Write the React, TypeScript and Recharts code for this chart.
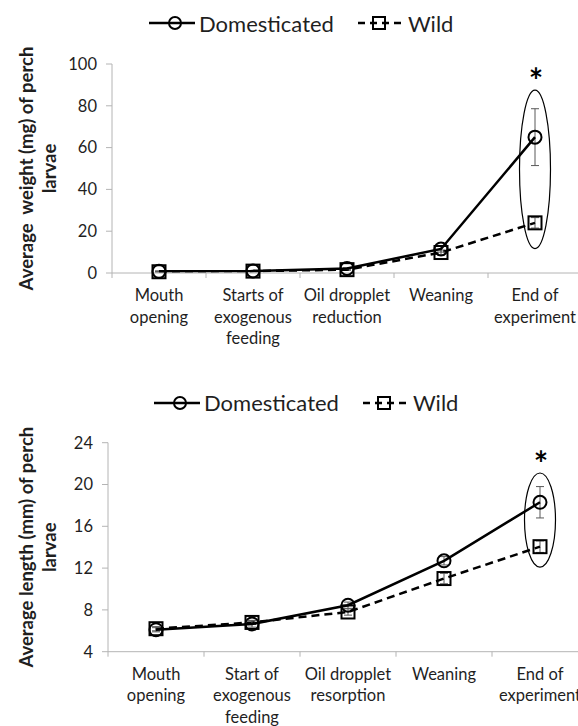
import React from 'react';
import { LineChart, Line, XAxis, YAxis, ErrorBar, ReferenceArea, Legend } from 'recharts';

// Stages of larval development (x axis), "\n" marks a line break in the tick label
const weightStages = ['Mouth\nopening', 'Starts of\nexogenous\nfeeding', 'Oil dropplet\nreduction', 'Weaning', 'End of\nexperiment'];
const lengthStages = ['Mouth\nopening', 'Start of\nexogenous\nfeeding', 'Oil dropplet\nresorption', 'Weaning', 'End of\nexperiment'];

// Average weight (mg)
const weightDomesticated = [0.8, 1.0, 2.2, 11.5, 65];
const weightDomesticatedErr = [0.2, 0.2, 0.3, 1.5, 13.6];
const weightWild = [0.6, 0.9, 1.6, 9.8, 24];
const weightWildErr = [0.2, 0.2, 0.3, 1.2, 2.5];
const weightTicks = [0, 20, 40, 60, 80, 100];
const weightEllipse = [11.7, 87.5];

// Average length (mm)
const lengthDomesticated = [6.1, 6.65, 8.45, 12.7, 18.3];
const lengthDomesticatedErr = [0.2, 0.3, 0.3, 0.4, 1.5];
const lengthWild = [6.2, 6.8, 7.8, 11.0, 14.05];
const lengthWildErr = [0.2, 0.2, 0.3, 0.5, 0.55];
const lengthTicks = [4, 8, 12, 16, 20, 24];
const lengthEllipse = [12.1, 21.1];

const SERIES = ['Domesticated', 'Wild'];

const FONT = 'Lato, "Liberation Sans", sans-serif';
const AXIS_GRAY = '#b4b4b4';
const TEXT = '#1f1f1f';

const buildRows = (stages, dom, domErr, wild, wildErr) =>
  stages.map((stage, i) => ({ stage, dom: dom[i], domErr: domErr[i], wild: wild[i], wildErr: wildErr[i] }));

const CircleDot = (props) => {
  const { cx, cy } = props;
  if (cx == null || cy == null) return null;
  return <circle cx={cx} cy={cy} r={6.5} fill="none" stroke="#000" strokeWidth={2} />;
};

const SquareDot = (props) => {
  const { cx, cy } = props;
  if (cx == null || cy == null) return null;
  return <rect x={cx - 6.5} y={cy - 6.5} width={13} height={13} fill="none" stroke="#000" strokeWidth={2} />;
};

const StageTick = ({ x, y, payload, half, last }) => {
  const lines = String(payload.value).split('\n');
  return (
    <g>
      <line x1={x - half} x2={x - half} y1={y} y2={y + 5} stroke={AXIS_GRAY} />
      {payload.index === last && <line x1={x + half} x2={x + half} y1={y} y2={y + 5} stroke={AXIS_GRAY} />}
      <text x={x} y={y + 28} textAnchor="middle" fontSize={16.5} fill={TEXT} fontFamily={FONT}>
        {lines.map((l, i) => (
          <tspan key={i} x={x} dy={i === 0 ? 0 : 21.5}>
            {l}
          </tspan>
        ))}
      </text>
    </g>
  );
};

const YTitle = ({ viewBox, lines }) => {
  const cy = viewBox.y + viewBox.height / 2;
  const xs = [26, 49];
  return (
    <g>
      {lines.map((l, i) => (
        <text
          key={i}
          x={xs[i]}
          y={cy}
          transform={`rotate(-90, ${xs[i]}, ${cy})`}
          textAnchor="middle"
          dominantBaseline="central"
          fontSize={18.5}
          fontWeight="bold"
          fill={TEXT}
          fontFamily={FONT}
          style={{ whiteSpace: 'pre' }}
        >
          {l}
        </text>
      ))}
    </g>
  );
};

// ellipse around the last stage with the significance star above it
const SignificanceMark = ({ x, y, width, height }) => {
  const cx = x + width / 2;
  const cy = y + height / 2;
  return (
    <g>
      <ellipse cx={cx} cy={cy} rx={15.5} ry={height / 2} fill="none" stroke="#000" strokeWidth={1.2} />
      <text x={cx + 1} y={y + 3} textAnchor="middle" fontSize={34} fontWeight="bold" fill="#000" fontFamily={FONT}>
        *
      </text>
    </g>
  );
};

const LegendIcon = ({ name }) =>
  name === 'Domesticated' ? (
    <svg width={46} height={30}>
      <line x1={0} x2={46} y1={15} y2={15} stroke="#000" strokeWidth={2.5} />
      <circle cx={26} cy={15} r={6} fill="none" stroke="#000" strokeWidth={2} />
    </svg>
  ) : (
    <svg width={46} height={30}>
      <line x1={0} x2={46} y1={15} y2={15} stroke="#000" strokeWidth={2.5} strokeDasharray="7 5" />
      <rect x={15} y={9} width={12} height={12} fill="none" stroke="#000" strokeWidth={2} />
    </svg>
  );

const LegendContent = () => (
  <div style={{ display: 'flex', alignItems: 'center', height: 30, fontFamily: FONT, fontSize: 22, color: TEXT }}>
    {SERIES.map((name) => (
      <div key={name} style={{ display: 'flex', alignItems: 'center', marginRight: 24 }}>
        <LegendIcon name={name} />
        <span style={{ marginLeft: 4 }}>{name}</span>
      </div>
    ))}
  </div>
);

const GrowthChart = ({ rows, stages, ticks, ellipse, yLines, cfg }) => {
  const half = cfg.step / 2;
  return (
    <div style={{ position: 'absolute', left: 0, top: cfg.top }}>
      <LineChart
        width={cfg.width}
        height={cfg.height}
        data={rows}
        margin={{ top: cfg.plotTop - 30, right: 0, left: 0, bottom: 0 }}
      >
        <Legend
          verticalAlign="top"
          content={<LegendContent />}
          wrapperStyle={{ top: cfg.legendTop, left: cfg.legendLeft, width: 360 }}
        />
        <XAxis
          dataKey="stage"
          interval={0}
          height={cfg.xAxisHeight}
          padding={{ left: half, right: half }}
          axisLine={{ stroke: AXIS_GRAY }}
          tickLine={false}
          tickSize={0}
          tickMargin={0}
          tick={<StageTick half={half} last={stages.length - 1} />}
        />
        <YAxis
          width={cfg.yAxisWidth}
          domain={[ticks[0], ticks[ticks.length - 1]]}
          ticks={ticks}
          interval={0}
          axisLine={{ stroke: AXIS_GRAY }}
          tickLine={{ stroke: AXIS_GRAY }}
          tickSize={6}
          tickMargin={9}
          tick={{ fontSize: 16.5, fill: TEXT, fontFamily: FONT }}
          label={{ content: (p) => <YTitle viewBox={p.viewBox} lines={yLines} /> }}
        />
        <ReferenceArea
          x1={stages[stages.length - 1]}
          x2={stages[stages.length - 1]}
          y1={ellipse[0]}
          y2={ellipse[1]}
          ifOverflow="visible"
          shape={(p) => <SignificanceMark {...p} />}
        />
        <Line
          type="linear"
          dataKey="wild"
          name="Wild"
          stroke="#000"
          strokeWidth={2.5}
          strokeDasharray="8 5"
          dot={<SquareDot />}
          activeDot={false}
          legendType="none"
          isAnimationActive={false}
        >
          <ErrorBar dataKey="wildErr" direction="y" width={4} stroke="#595959" strokeWidth={1} />
        </Line>
        <Line
          type="linear"
          dataKey="dom"
          name="Domesticated"
          stroke="#000"
          strokeWidth={2.5}
          dot={<CircleDot />}
          activeDot={false}
          isAnimationActive={false}
        >
          <ErrorBar dataKey="domErr" direction="y" width={4} stroke="#595959" strokeWidth={1} />
        </Line>
      </LineChart>
    </div>
  );
};

const weightRows = buildRows(weightStages, weightDomesticated, weightDomesticatedErr, weightWild, weightWildErr);
const lengthRows = buildRows(lengthStages, lengthDomesticated, lengthDomesticatedErr, lengthWild, lengthWildErr);

export default function App() {
  return (
    <div
      style={{
        position: 'absolute',
        left: 0,
        top: 0,
        width: 578,
        height: 726,
        overflow: 'hidden',
        background: '#fff',
        fontFamily: FONT,
      }}
    >
      <GrowthChart
        rows={weightRows}
        stages={weightStages}
        ticks={weightTicks}
        ellipse={weightEllipse}
        yLines={['Average  weight (mg) of perch', 'larvae']}
        cfg={{ top: 0, width: 582, height: 350, yAxisWidth: 112, plotTop: 64, xAxisHeight: 77, step: 94, legendTop: 8, legendLeft: 149 }}
      />
      <GrowthChart
        rows={lengthRows}
        stages={lengthStages}
        ticks={lengthTicks}
        ellipse={lengthEllipse}
        yLines={['Average length (mm) of perch', 'larvae']}
        cfg={{ top: 370, width: 588, height: 356, yAxisWidth: 108, plotTop: 72.7, xAxisHeight: 74.3, step: 96, legendTop: 17.7, legendLeft: 154 }}
      />
    </div>
  );
}
